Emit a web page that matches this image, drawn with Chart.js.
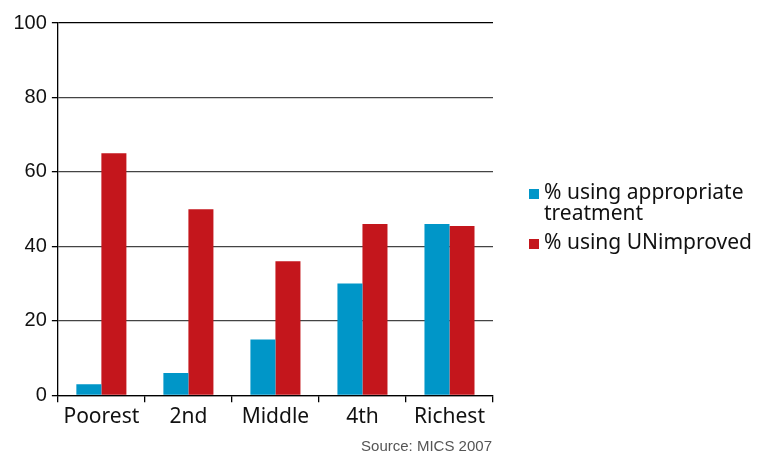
<!DOCTYPE html>
<html>
<head>
<meta charset="utf-8">
<script src="https://cdn.jsdelivr.net/npm/chart.js@4/dist/chart.umd.min.js"></script>
<style>
  html, body { margin: 0; padding: 0; background: #fff; }
  #wrap { position: relative; width: 764px; height: 458px; font-family: "Noto Sans", sans-serif; }
  #legend { position: absolute; left: 529px; top: 181px; font-size: 21px; line-height: 21px; color: #111; }
  #legend .item { display: flex; align-items: flex-start; margin-bottom: 8px; }
  #legend .sw { width: 10px; height: 10px; margin: 8px 5px 0 0; flex: none; }
  #source { position: absolute; right: 272px; top: 437px; font-size: 15px; color: #555; font-family: "Liberation Sans", Arial, sans-serif; }
</style>
</head>
<body>
<div id="wrap">
  <canvas id="c" width="764" height="458"></canvas>
  <div id="legend"></div>
  <div id="source">Source: MICS 2007</div>
</div>
<script>
const categories = ["Poorest", "2nd", "Middle", "4th", "Richest"];
const appropriate = [3, 6, 15, 30, 46];
const unimproved = [65, 50, 36, 46, 45.5];
const seriesNames = ["% using appropriate treatment", "% using UNimproved"];
const seriesColors = ["#0096c8", "#c4161c"];
const yTicks = [0, 20, 40, 60, 80, 100];

const xFont = { family: "'Noto Sans', sans-serif", size: 21 };
const yFont = { family: "'Liberation Sans', Arial, sans-serif", size: 20 };

new Chart(document.getElementById("c"), {
  type: "bar",
  data: {
    labels: categories,
    datasets: [
      { label: seriesNames[0], data: appropriate, backgroundColor: seriesColors[0] },
      { label: seriesNames[1], data: unimproved, backgroundColor: seriesColors[1] },
    ],
  },
  options: {
    responsive: false,
    animation: false,
    devicePixelRatio: 1,
    layout: { padding: { left: 8.5, right: 271, top: 23, bottom: 26.5 } },
    datasets: { bar: { categoryPercentage: 0.575, barPercentage: 1 } },
    plugins: { legend: { display: false }, tooltip: { enabled: false } },
    scales: {
      x: {
        grid: { offset: true, drawOnChartArea: false, drawTicks: true, tickLength: 7, color: "#000", lineWidth: 1.3 },
        border: { display: true, color: "#000", width: 1.3 },
        ticks: { color: "#111", font: xFont, padding: 2 },
      },
      y: {
        min: 0, max: 100,
        afterBuildTicks: axis => { axis.ticks = yTicks.map(v => ({ value: v })); },
        grid: {
          color: ctx => (ctx.tick && ctx.tick.value === 100 ? "#000" : "#444"),
          tickColor: "#000", tickLength: 6, lineWidth: 1.3,
        },
        border: { display: true, color: "#000", width: 1.3 },
        ticks: { color: "#111", font: yFont, padding: 5 },
      },
    },
  },
});

// legend built from the series arrays
const leg = document.getElementById("legend");
const legendText = ["% using appropriate<br>treatment", "% using UNimproved"];
seriesNames.forEach((n, i) => {
  const d = document.createElement("div");
  d.className = "item";
  d.innerHTML = `<span class="sw" style="background:${seriesColors[i]}"></span><span>${legendText[i]}</span>`;
  leg.appendChild(d);
});
</script>
</body>
</html>
